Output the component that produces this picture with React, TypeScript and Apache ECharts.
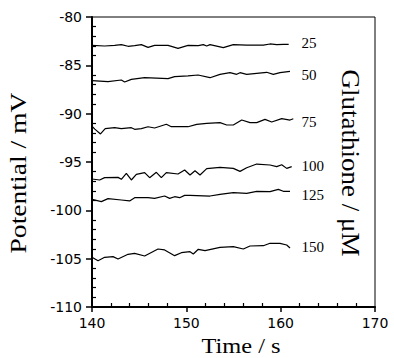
import React, { useEffect, useRef } from "react";
import * as echarts from "echarts";

// Glutathione concentrations (µM) = series names
const NAMES = ["25", "50", "75", "100", "125", "150"];

// time (s) / potential (mV) for each trace
const T25 = [140.0, 141.34, 142.4, 143.11, 143.82, 144.52, 145.23, 145.94, 146.64, 148.06, 149.12, 150.18, 151.27, 151.8, 152.16, 152.51, 153.92, 154.98, 156.4, 158.16, 158.87, 159.58, 160.28, 160.85];
const V25 = [-82.93, -83.0, -82.93, -82.86, -83.03, -82.97, -82.86, -83.14, -82.93, -82.93, -83.24, -82.93, -82.97, -82.86, -83.0, -82.86, -83.17, -82.86, -82.9, -82.9, -82.79, -82.86, -82.83, -82.83];

const T50 = [140.0, 141.7, 143.11, 143.46, 144.17, 145.58, 148.06, 148.76, 150.18, 151.24, 152.51, 153.57, 154.63, 155.34, 155.69, 156.4, 158.52, 159.22, 159.93, 160.99];
const V50 = [-86.59, -86.69, -86.52, -86.72, -86.45, -86.28, -86.38, -86.17, -86.1, -86.0, -86.28, -85.93, -85.76, -85.93, -85.76, -85.93, -85.72, -85.93, -85.76, -85.62];

const T75 = [140.0, 140.3, 140.9, 141.4, 142.4, 143.11, 144.17, 144.52, 145.23, 145.94, 146.64, 147.88, 148.41, 150.18, 151.1, 152.16, 153.57, 154.28, 154.98, 155.87, 156.75, 157.46, 158.34, 159.05, 160.11, 160.99, 161.34];
const V75 = [-91.3, -91.6, -92.1, -91.55, -91.45, -91.55, -91.45, -91.62, -91.55, -91.35, -91.48, -91.1, -91.35, -91.35, -91.1, -91.0, -90.93, -91.17, -91.17, -90.66, -90.93, -90.93, -90.59, -90.86, -90.52, -90.66, -90.52];

const T100 = [140.0, 140.81, 141.34, 142.76, 143.11, 143.64, 144.17, 144.7, 145.58, 146.11, 146.82, 147.35, 147.88, 149.12, 149.82, 150.39, 150.92, 151.45, 152.16, 153.57, 154.98, 155.69, 156.4, 157.46, 158.87, 159.58, 160.11, 160.64, 161.17];
const V100 = [-96.76, -96.86, -96.62, -96.59, -96.79, -96.17, -96.86, -96.28, -96.1, -96.62, -96.07, -96.62, -96.1, -96.24, -95.83, -96.34, -95.9, -96.34, -95.69, -95.55, -95.66, -95.97, -95.59, -95.21, -95.31, -95.48, -95.28, -95.66, -95.48];

const T125 = [140.0, 140.99, 141.7, 143.11, 143.99, 144.52, 145.94, 146.64, 147.7, 148.23, 148.76, 149.29, 149.82, 150.39, 152.51, 153.57, 154.98, 156.4, 157.46, 158.87, 159.75, 160.28, 160.99];
const V125 = [-98.86, -99.1, -98.79, -98.93, -99.03, -98.69, -98.69, -98.76, -98.52, -98.76, -98.59, -98.69, -98.45, -98.45, -98.52, -98.34, -98.17, -98.24, -98.03, -98.07, -97.83, -98.03, -98.03];

const T150 = [140.0, 140.64, 141.34, 142.23, 142.76, 143.82, 144.52, 145.58, 147.0, 147.7, 148.76, 149.47, 150.39, 150.74, 151.27, 151.98, 153.57, 154.98, 156.04, 156.75, 158.16, 158.87, 159.93, 160.64, 160.99];
const V150 = [-104.86, -105.21, -104.86, -104.79, -105.03, -104.55, -104.45, -104.72, -104.0, -104.1, -104.69, -104.38, -104.28, -104.52, -104.03, -104.17, -103.83, -103.76, -104.0, -103.69, -103.66, -103.41, -103.41, -103.59, -103.9];

const TIMES = [T25, T50, T75, T100, T125, T150];
const VALUES = [V25, V50, V75, V100, V125, V150];

// where each concentration label sits (time, potential)
const LABEL_T = 162.2;
const LABEL_V = [-82.72, -86.0, -90.83, -95.38, -98.41, -103.81];

// axes
const X_MIN = 140, X_MAX = 170, X_STEP = 10;
const Y_MIN = -110, Y_MAX = -80, Y_STEP = 5;

const X_TITLE = "Time / s";
const Y_TITLE = "Potential / mV";
const R_TITLE = "Glutathione / μM";

const SERIF = "'Liberation Serif', 'Times New Roman', serif";
const SANS = "'DejaVu Sans', sans-serif";

export default function App() {
  const ref = useRef<HTMLDivElement>(null);

  useEffect(() => {
    if (!ref.current) return;
    const chart = echarts.init(ref.current, undefined, { renderer: "svg" });

    const series = NAMES.map((name, i) => ({
      name,
      type: "line",
      data: TIMES[i].map((t, j) => [t, VALUES[i][j]]),
      showSymbol: false,
      symbol: "none",
      lineStyle: { color: "#000", width: 1.2 },
      silent: true,
      markPoint: {
        symbol: "circle",
        symbolSize: 0,
        silent: true,
        data: [{ coord: [LABEL_T, LABEL_V[i]] }],
        label: {
          show: true,
          position: "right",
          distance: 0,
          formatter: name,
          color: "#000",
          fontFamily: SERIF,
          fontSize: 15,
        },
      },
    }));

    chart.setOption({
      animation: false,
      backgroundColor: "#fff",
      grid: {
        left: 92,
        right: 19,
        top: 17,
        bottom: 51,
        show: true,
        borderColor: "#000",
        borderWidth: 1,
        backgroundColor: "transparent",
      },
      xAxis: {
        type: "value",
        min: X_MIN,
        max: X_MAX,
        interval: X_STEP,
        axisLine: { show: true, onZero: false, lineStyle: { color: "#000", width: 2 } },
        axisTick: { show: true, inside: false, length: 5, lineStyle: { color: "#000", width: 1.5 } },
        minorTick: { show: true, splitNumber: 5, length: -4, lineStyle: { color: "#000", width: 1.2 } },
        splitLine: { show: false },
        axisLabel: { color: "#000", fontFamily: SANS, fontSize: 14, margin: 9 },
      },
      yAxis: {
        type: "value",
        min: Y_MIN,
        max: Y_MAX,
        interval: Y_STEP,
        axisLine: { show: true, onZero: false, lineStyle: { color: "#000", width: 2 } },
        axisTick: { show: true, inside: false, length: 6, lineStyle: { color: "#000", width: 1.5 } },
        minorTick: { show: true, splitNumber: 5, length: -4, lineStyle: { color: "#000", width: 1.2 } },
        splitLine: { show: false },
        axisLabel: { color: "#000", fontFamily: SANS, fontSize: 14, margin: 10 },
      },
      graphic: [
        {
          type: "text",
          x: 18,
          y: 173,
          rotation: Math.PI / 2,
          scaleX: 1.15,
          style: {
            text: Y_TITLE,
            fill: "#000",
            font: `24px ${SERIF}`,
            align: "center",
            verticalAlign: "middle",
          },
        },
        {
          type: "text",
          x: 241,
          y: 346,
          scaleX: 1.22,
          style: {
            text: X_TITLE,
            fill: "#000",
            font: `20px ${SERIF}`,
            align: "center",
            verticalAlign: "middle",
          },
        },
        {
          type: "text",
          x: 350,
          y: 163,
          rotation: -Math.PI / 2,
          scaleX: 1.08,
          style: {
            text: R_TITLE,
            fill: "#000",
            font: `25px ${SERIF}`,
            align: "center",
            verticalAlign: "middle",
          },
        },
      ],
      series,
    });

    return () => chart.dispose();
  }, []);

  return <div ref={ref} style={{ width: 394, height: 358, position: "absolute", left: 0, top: 0 }} />;
}
